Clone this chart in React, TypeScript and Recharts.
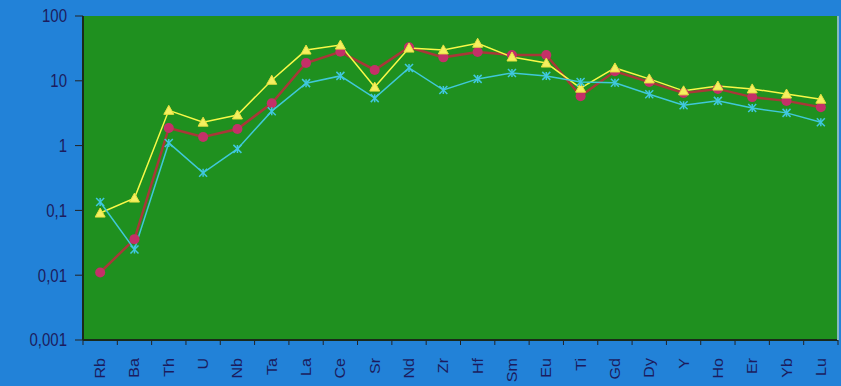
import React from "react";
import {
  CartesianGrid,
  Line,
  LineChart,
  XAxis,
  YAxis,
} from "recharts";

const elements = [
  "Rb", "Ba", "Th", "U", "Nb", "Ta", "La", "Ce", "Sr", "Nd", "Zr",
  "Hf", "Sm", "Eu", "Ti", "Gd", "Dy", "Y", "Ho", "Er", "Yb", "Lu",
];

const sampleA = [
  0.011, 0.036, 1.87, 1.36, 1.8, 4.5, 18.8, 28, 14.7, 33, 23,
  27.8, 25, 25, 5.8, 14, 9.6, 6.5, 7.5, 5.6, 4.9, 3.9,
];
const sampleB = [
  0.091, 0.155, 3.5, 2.3, 2.97, 10.2, 29.8, 35.6, 8.0, 32, 30,
  38, 23.3, 18.8, 7.7, 15.8, 10.7, 7.0, 8.3, 7.5, 6.25, 5.2,
];
const sampleC = [
  0.135, 0.025, 1.1, 0.38, 0.89, 3.4, 9.2, 11.9, 5.4, 15.8, 7.2,
  10.7, 13.2, 11.9, 9.6, 9.3, 6.2, 4.2, 4.9, 3.8, 3.2, 2.3,
];

const yTicks = [0.001, 0.01, 0.1, 1, 10, 100];

const data = elements.map((el, i) => ({
  el,
  a: sampleA[i],
  b: sampleB[i],
  c: sampleC[i],
}));

const W = 841;
const H = 386;
const M = { top: 16, right: 0, left: 0, bottom: 0 };
const Y_W = 83;
const R_W = 3;
const X_H = 46;
const plotW = W - Y_W - R_W;
const band = plotW / elements.length;

const axisText = "#1c1c5e";
const font = "'Liberation Sans', Arial, sans-serif";

// category labels sit rotated between boundary tick marks
const ElementTick = (props: any) => {
  const { x, y, payload, index } = props;
  const ax = y - 6; // axis line
  const tx = x + 5;
  const ty = ax + 18;
  return (
    <g>
      <line x1={x - band / 2} x2={x - band / 2} y1={ax} y2={ax + 5} stroke="#222" />
      {index === elements.length - 1 && (
        <line x1={x + band / 2} x2={x + band / 2} y1={ax} y2={ax + 5} stroke="#222" />
      )}
      <text
        transform={`translate(${tx}, ${ty}) rotate(-90) scale(1.15, 1)`}
        textAnchor="end"
        fill={axisText}
        fontSize={14}
        fontFamily={font}
      >
        {payload.value}
      </text>
    </g>
  );
};

const ValueTick = (props: any) => {
  const { x, y, payload } = props;
  return (
    <text
      transform={`translate(${x}, ${y}) scale(1, 1.2)`}
      textAnchor="end"
      dy="0.36em"
      fill={axisText}
      fontSize={15}
      fontFamily={font}
    >
      {String(payload.value).replace(".", ",")}
    </text>
  );
};

const Triangle = (props: any) => {
  const { cx, cy } = props;
  if (cx == null || cy == null) return null;
  return (
    <polygon
      points={`${cx},${cy - 5} ${cx - 5},${cy + 4} ${cx + 5},${cy + 4}`}
      fill="#f4f060"
      stroke="#e8e040"
      strokeWidth={1}
    />
  );
};

const Dot = (props: any) => {
  const { cx, cy } = props;
  if (cx == null || cy == null) return null;
  return <circle cx={cx} cy={cy} r={5} fill="#c43068" />;
};

const Cross = (props: any) => {
  const { cx, cy } = props;
  if (cx == null || cy == null) return null;
  return (
    <g stroke="#40c8e0" strokeWidth={1.5}>
      <line x1={cx - 4} y1={cy - 4} x2={cx + 4} y2={cy + 4} />
      <line x1={cx - 4} y1={cy + 4} x2={cx + 4} y2={cy - 4} />
      <line x1={cx} y1={cy - 4} x2={cx} y2={cy + 4} />
    </g>
  );
};

export default function App() {
  return (
    <div
      style={{
        position: "absolute",
        left: 0,
        top: 0,
        width: W,
        height: H,
        background: "#2282d8",
      }}
    >
      <LineChart width={W} height={H} data={data} margin={M}>
        <CartesianGrid fill="#1f901f" stroke="none" horizontal={false} vertical={false} />
        <XAxis
          dataKey="el"
          scale="band"
          height={X_H}
          interval={0}
          tickSize={6}
          tickLine={false}
          axisLine={{ stroke: "#1a2a1a", strokeWidth: 2 }}
          tick={<ElementTick />}
          tickMargin={0}
        />
        <XAxis
          xAxisId="top"
          dataKey="el"
          orientation="top"
          scale="band"
          height={0}
          tick={false}
          tickLine={false}
          axisLine={{ stroke: "#86b8c0", strokeWidth: 2 }}
        />
        <YAxis
          scale="log"
          domain={[0.001, 100]}
          ticks={yTicks}
          allowDataOverflow
          width={Y_W}
          tickSize={8}
          tickMargin={8}
          tickLine={{ stroke: "#222" }}
          axisLine={{ stroke: "#1a2a1a", strokeWidth: 2 }}
          tick={<ValueTick />}
        />
        <YAxis
          yAxisId="right"
          orientation="right"
          width={R_W}
          tick={false}
          tickLine={false}
          axisLine={{ stroke: "#86b8c0", strokeWidth: 2 }}
        />
        <Line
          dataKey="a"
          stroke="#a83838"
          strokeWidth={2.5}
          dot={<Dot />}
          isAnimationActive={false}
        />
        <Line
          dataKey="b"
          stroke="#f8f848"
          strokeWidth={1.5}
          dot={<Triangle />}
          isAnimationActive={false}
        />
        <Line
          dataKey="c"
          stroke="#40c8d8"
          strokeWidth={1.5}
          dot={<Cross />}
          isAnimationActive={false}
        />
      </LineChart>
    </div>
  );
}
